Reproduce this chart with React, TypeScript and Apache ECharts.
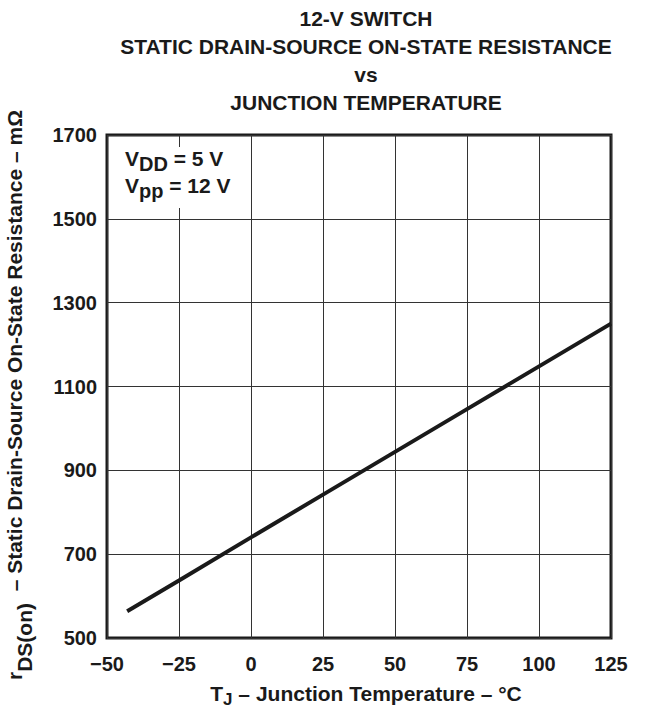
import React, { useEffect, useRef } from 'react';
import * as echarts from 'echarts';

const temps = [-43, -25, 0, 25, 50, 75, 100, 125];
const rdsOn = [564, 637, 740, 842, 944, 1046, 1148, 1250];
const xTicks = [-50, -25, 0, 25, 50, 75, 100, 125];
const yTicks = [500, 700, 900, 1100, 1300, 1500, 1700];
const titleLines = ['12-V SWITCH', 'STATIC DRAIN-SOURCE ON-STATE RESISTANCE', 'vs', 'JUNCTION TEMPERATURE'];
const conditionLines = [
  ['V', 'DD', ' = 5 V'],
  ['V', 'pp', ' = 12 V'],
];

const FONT = '"Liberation Sans", Arial, Helvetica, sans-serif';
const INK = '#1a1a1a';

export default function App() {
  const ref = useRef<HTMLDivElement>(null);
  useEffect(() => {
    if (!ref.current) return;
    const chart = echarts.init(ref.current, undefined, { renderer: 'svg' });
    const titleY = [18, 46, 74, 102];
    const graphics: any[] = titleLines.map((t, i) => ({
      type: 'text',
      x: 366,
      y: titleY[i],
      z: 10,
      style: {
        text: t,
        font: `bold 21px ${FONT}`,
        fill: INK,
        align: 'center',
        verticalAlign: 'middle',
      },
    }));
    graphics.push({
      type: 'rect',
      z: 10,
      shape: { x: 111, y: 147, width: 134, height: 61 },
      style: { fill: '#fff' },
    });
    const condY = [148, 175];
    conditionLines.forEach((parts, i) => {
      graphics.push({
        type: 'text',
        x: 125,
        y: condY[i],
        z: 11,
        style: {
          text: `{m|${parts[0]}}{s|${parts[1]}}{m|${parts[2]}}`,
          verticalAlign: 'top',
          rich: {
            m: { font: `bold 21px ${FONT}`, fill: INK, lineHeight: 23, verticalAlign: 'top' },
            s: { font: `bold 20px ${FONT}`, fill: INK, lineHeight: 23, verticalAlign: 'top', padding: [6, 0, 0, 0] },
          },
        },
      });
    });
    graphics.push({
      type: 'text',
      x: 366,
      y: 694,
      z: 10,
      style: {
        text: '{m|T}{s|J}{m| – Junction Temperature – °C}',
        align: 'center',
        verticalAlign: 'middle',
        rich: {
          m: { font: `bold 21px ${FONT}`, fill: INK, lineHeight: 22, verticalAlign: 'top' },
          s: { font: `bold 17px ${FONT}`, fill: INK, lineHeight: 22, verticalAlign: 'top', padding: [8, 0, 0, 0] },
        },
      },
    });
    graphics.push({
      type: 'text',
      x: 15,
      y: 395,
      rotation: Math.PI / 2,
      z: 10,
      style: {
        text: '{m|r}{s|DS(on)}{m|  – Static Drain-Source On-State Resistance – mΩ}',
        align: 'center',
        verticalAlign: 'middle',
        rich: {
          m: { font: `bold 21px ${FONT}`, fill: INK, lineHeight: 22, verticalAlign: 'top' },
          s: { font: `bold 21px ${FONT}`, fill: INK, lineHeight: 22, verticalAlign: 'top', padding: [10, 0, 0, 0] },
        },
      },
    });

    chart.setOption({
      animation: false,
      grid: {
        left: 107,
        right: 35,
        top: 135,
        bottom: 72,
        show: true,
        borderColor: INK,
        borderWidth: 3,
        backgroundColor: 'transparent',
      },
      xAxis: {
        type: 'value',
        min: -50,
        max: 125,
        interval: 25,
        axisLine: { show: false },
        axisTick: { show: false },
        splitLine: { show: true, lineStyle: { color: '#333', width: 1 } },
        axisLabel: {
          margin: 16,
          color: INK,
          fontFamily: FONT,
          fontWeight: 'bold',
          fontSize: 20,
          formatter: (v: number) => (xTicks.includes(v) ? (v < 0 ? '−' + Math.abs(v) : String(v)) : ''),
        },
      },
      yAxis: {
        type: 'value',
        min: 500,
        max: 1700,
        interval: 200,
        axisLine: { show: false },
        axisTick: { show: false },
        splitLine: { show: true, lineStyle: { color: '#333', width: 1 } },
        axisLabel: {
          margin: 10,
          color: INK,
          fontFamily: FONT,
          fontWeight: 'bold',
          fontSize: 20,
          padding: [6, 0, 0, 0],
          formatter: (v: number) => (yTicks.includes(v) ? String(v) : ''),
        },
      },
      graphic: graphics,
      series: [
        {
          type: 'line',
          data: temps.map((t, i) => [t, rdsOn[i]]),
          showSymbol: false,
          lineStyle: { color: INK, width: 4 },
          z: 5,
        },
      ],
    });
    return () => chart.dispose();
  }, []);
  return <div ref={ref} style={{ position: 'fixed', left: 0, top: 0, width: 646, height: 710, background: '#fff' }} />;
}
